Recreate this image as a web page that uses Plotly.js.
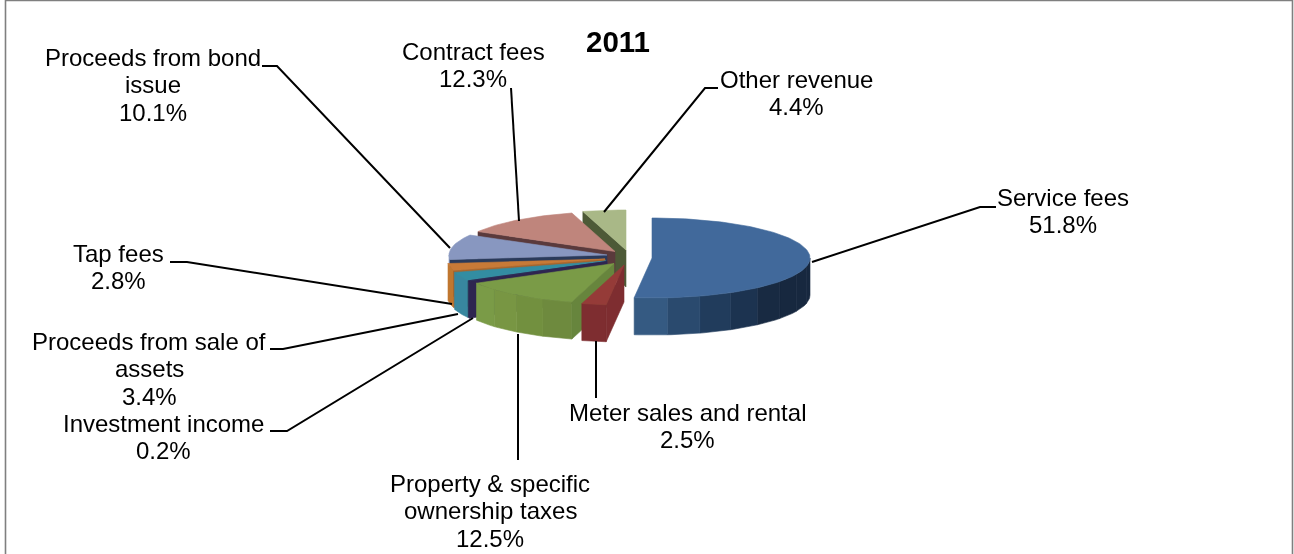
<!DOCTYPE html>
<html>
<head>
<meta charset="utf-8">
<script src="https://cdn.plot.ly/plotly-3.0.1.min.js"></script>
<style>html,body{margin:0;padding:0;background:#fff}#chart{width:1294px;height:554px;filter:blur(0.35px)}</style>
</head>
<body>
<div id="chart"></div>
<script>
// ---- data ----
var categories = ["Service fees","Meter sales and rental","Property & specific ownership taxes","Investment income","Proceeds from sale of assets","Tap fees","Proceeds from bond issue","Contract fees","Other revenue"];
var shares = [51.8,2.5,12.5,0.2,3.4,2.8,10.1,12.3,4.4];
var chartTitle = "2011";

// ---- styles ----
var topColors  = ["#41699b","#953b38","#7a9b47","#2e2550","#338da2","#c87a37","#8897c0","#bf857c","#a9b887"];
var faceColors = ["#2a4a6e","#7e2d30","#67853d","#2e2550","#2b7186","#a8652c","#2a3a5a","#5a3a3c","#4d5a37"];
var wallShades = [
  ["#17283f","#17283f","#17283f","#182a42","#1c3350","#213c5c","#2a4a6e","#355a82"],
  ["#7e2d30"],
  ["#6e8a3e","#72903f","#789643","#7a9b47"],
  ["#2e2550"],
  ["#38879f"],
  ["#c0772f"],
  ["#8a9ac2"],
  ["#bf857c"],
  ["#a9b887"]
];

// ---- layout geometry (pixel-based plot space) ----
var apexX = [652,624,614,607,606,605,607,615,626];
var apexY = [258,265,263.5,261.5,261,259,255,251.5,250];
var radiusX = 158, radiusY = 40, depth = 37;

var traces = [];
function P(i,deg,dy){var r=deg*Math.PI/180;return [apexX[i]+radiusX*Math.sin(r), apexY[i]-radiusY*Math.cos(r)+(dy||0)];}
function poly(pts,color,name){
  var xs=pts.map(function(p){return p[0]}), ys=pts.map(function(p){return p[1]});
  xs.push(xs[0]); ys.push(ys[0]);
  traces.push({type:"scatter",mode:"lines",x:xs,y:ys,fill:"toself",fillcolor:color,
    line:{color:color,width:0.6},name:name,hoveron:"fills",text:name,hoverinfo:"text"});
}
function arc(i,a,b,dy){var n=Math.max(2,Math.ceil(Math.abs(b-a)/1.5)),o=[];for(var k=0;k<=n;k++)o.push(P(i,a+(b-a)*k/n,dy));return o;}

var cum=0,starts=[],ends=[];
shares.forEach(function(s){starts.push(cum*3.6);cum+=s;ends.push(cum*3.6);});

// Paint from the back of the pie to the front.
var order=[8,7,6,5,4,3,2,1,0];
order.forEach(function(i){
  var a=starts[i],b=ends[i],name=categories[i]+" "+shares[i]+"%";
  var w0=Math.max(a,90),w1=Math.min(b,270);
  if(w1>w0){
    var sh=wallShades[i],n=sh.length;
    for(var k=0;k<n;k++){
      var s0=w0+(w1-w0)*k/n,s1=w0+(w1-w0)*(k+1)/n;
      poly(arc(i,s0,s1,0).concat(arc(i,s1,s0,depth)),sh[k],name);
    }
  }
  if(i!==0){
    var ap=[apexX[i],apexY[i]],e=P(i,a,0);
    poly([ap,e,[e[0],e[1]+depth],[ap[0],ap[1]+depth]],faceColors[i],name);
  }
  poly([[apexX[i],apexY[i]]].concat(arc(i,a,b,0)),topColors[i],name);
});

// ---- leader lines and labels ----
var leaderPaths = [
  "M812,262 L980,207 L996,207",
  "M604,212 L705,88 L718,88",
  "M519,221 L511,88",
  "M450,248 L277,66 L262,66",
  "M452,304 L187,262 L170,262",
  "M458,314 L283,349 L270,349",
  "M473,318 L287,431 L270,431",
  "M518,334 L518,460",
  "M596,341 L596,398"
];
var labelLines = [
  ["Service fees","51.8%"],
  ["Other revenue","4.4%"],
  ["Contract fees","12.3%"],
  ["Proceeds from bond","issue","10.1%"],
  ["Tap fees","2.8%"],
  ["Proceeds from sale of","assets","3.4%"],
  ["Investment income","0.2%"],
  ["Property & specific","ownership taxes","12.5%"],
  ["Meter sales and rental","2.5%"]
];
var labelX = [1063,796,473,153,118,149,163,490,687];
var labelFirstY = [197,79,51,57,253,341,423,483,412];
var lineStep = 27.8;

var annotations = [];
labelLines.forEach(function(lines,i){
  lines.forEach(function(t,j){
    annotations.push({xref:"x",yref:"y",x:labelX[i],y:labelFirstY[i]+j*lineStep,text:t,showarrow:false,xanchor:"center",yanchor:"middle",
      font:{family:"Liberation Sans, Arial, sans-serif",size:24,color:"#000"}});
  });
});
annotations.push({xref:"x",yref:"y",x:618,y:41.5,text:"<b>"+chartTitle+"</b>",showarrow:false,xanchor:"center",yanchor:"middle",
  font:{family:"Liberation Sans, Arial, sans-serif",size:29.5,color:"#000"}});

var shapes = leaderPaths.map(function(p){return {type:"path",xref:"x",yref:"y",path:p,line:{color:"#000",width:2}};});
shapes.push({type:"path",xref:"x",yref:"y",path:"M5.5,554 L5.5,0.5 L1292.5,0.5 L1292.5,554",line:{color:"#7f7f7f",width:1.6}});

Plotly.newPlot("chart",traces,{
  width:1294,height:554,margin:{l:0,r:0,t:0,b:0},showlegend:false,
  paper_bgcolor:"#fff",plot_bgcolor:"#fff",
  xaxis:{range:[0,1294],visible:false,fixedrange:true},
  yaxis:{range:[554,0],visible:false,fixedrange:true},
  annotations:annotations,shapes:shapes
},{displayModeBar:false,staticPlot:true});
</script>
</body>
</html>
